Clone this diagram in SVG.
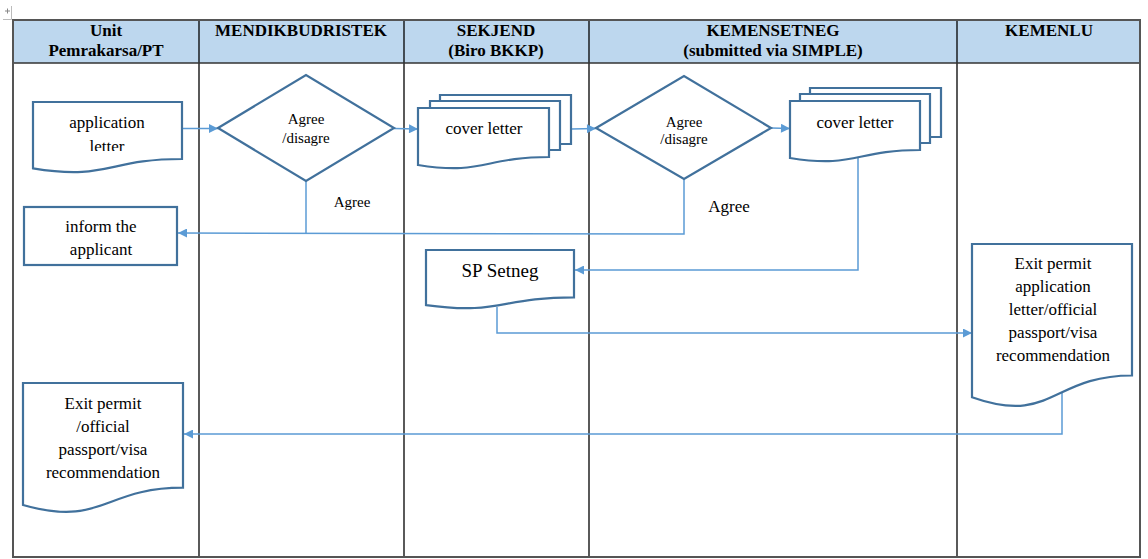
<svg xmlns="http://www.w3.org/2000/svg" width="1148" height="559" viewBox="0 0 1148 559">
<style>
.hdr{font-family:'Liberation Serif','DejaVu Serif',serif;font-weight:bold;font-size:17px;fill:#000;text-anchor:middle}
.t{font-family:'Liberation Serif','DejaVu Serif',serif;font-size:17px;fill:#000;text-anchor:middle}
.s{font-size:15px}
.shape{fill:#fff;stroke:#41719C;stroke-width:2.2}
.page{fill:none;stroke:#41719C;stroke-width:2.2}
.conn{fill:none;stroke:#5B9BD5;stroke-width:1.5}
.grid{stroke:#000;stroke-width:1.3}
</style>
<defs>
<marker id="arr" viewBox="0 0 10 10" refX="10" refY="5" markerWidth="10" markerHeight="9" markerUnits="userSpaceOnUse" orient="auto">
<path d="M0,0 L10,5 L0,10 Z" fill="#5B9BD5"/>
</marker>
<clipPath id="clipApp"><rect x="33" y="102" width="149" height="49"/></clipPath>
</defs>
<rect width="1148" height="559" fill="#fff"/>
<g id="handle" stroke="#bbb" stroke-width="1" fill="none">
<path d="M3,19.5 H11.5 V6"/>
<path d="M5,11 H10 M7.5,8.5 V13.5" stroke="#888"/>
</g>
<g id="table">
<rect x="13" y="20" width="1127" height="43" fill="#BDD7EE"/>
<line class="grid" x1="199" y1="20" x2="199" y2="557"/>
<line class="grid" x1="404" y1="20" x2="404" y2="557"/>
<line class="grid" x1="589" y1="20" x2="589" y2="557"/>
<line class="grid" x1="957" y1="20" x2="957" y2="557"/>
<line x1="13" y1="63" x2="1140" y2="63" stroke="#333" stroke-width="1.5"/>
<rect x="13" y="20" width="1127" height="537" fill="none" stroke="#555" stroke-width="2"/>
<text class="hdr" x="106" y="36">Unit</text>
<text class="hdr" x="106" y="56">Pemrakarsa/PT</text>
<text class="hdr" x="301" y="36">MENDIKBUDRISTEK</text>
<text class="hdr" x="496" y="36">SEKJEND</text>
<text class="hdr" x="496" y="56">(Biro BKKP)</text>
<text class="hdr" x="773" y="36">KEMENSETNEG</text>
<text class="hdr" x="773" y="56">(submitted via SIMPLE)</text>
<text class="hdr" x="1049" y="36">KEMENLU</text>
</g>
<g id="connectors">
<path class="conn" d="M182,128.5 L218,128.5" marker-end="url(#arr)"/>
<path class="conn" d="M394,128.5 L418,129" marker-end="url(#arr)"/>
<path class="conn" d="M571,129 L596,128.5" marker-end="url(#arr)"/>
<path class="conn" d="M771,128 L790,128.5" marker-end="url(#arr)"/>
<path class="conn" d="M306,181 V233"/>
<path class="conn" d="M684,179 V234 L178,233" marker-end="url(#arr)"/>
<path class="conn" d="M858,157 V270 H575" marker-end="url(#arr)"/>
<path class="conn" d="M497,307 V333 H972" marker-end="url(#arr)"/>
<path class="conn" d="M1062,393 V434 H184" marker-end="url(#arr)"/>
</g>
<g id="application-letter">
<path class="shape" d="M33,102 H182 V159 C107.5,159 107.5,180.6 33,168.3 Z"/>
<g clip-path="url(#clipApp)">
<text class="t" x="107" y="128">application</text>
<text class="t" x="107" y="152">letter</text>
</g>
</g>
<g id="decision-1">
<path class="shape" d="M218,128 L306,75 L394,128 L306,181 Z"/>
<text class="t s" x="306" y="124">Agree</text>
<text class="t s" x="306" y="143">/disagre</text>
</g>
<g id="label-agree-1">
<text class="t s" x="352" y="207">Agree</text>
</g>
<g id="inform-applicant">
<rect class="shape" x="24" y="207" width="153" height="58"/>
<text class="t" x="101" y="232">inform the</text>
<text class="t" x="101" y="255">applicant</text>
</g>
<g id="cover-letter-1">
<path class="page" d="M440,101 V95 H571 V144 H560"/>
<path class="page" d="M430,108 V101 H560 V150 H549"/>
<path class="shape" d="M418,108 H549 V157 C483.5,157 483.5,175.5 418,165 Z"/>
<text class="t" x="484" y="134">cover letter</text>
</g>
<g id="decision-2">
<path class="shape" d="M596,128 L684,76 L771,128 L684,179 Z"/>
<text class="t s" x="684" y="127">Agree</text>
<text class="t s" x="684" y="144">/disagre</text>
</g>
<g id="label-agree-2">
<text class="t" x="729" y="212">Agree</text>
</g>
<g id="cover-letter-2">
<path class="page" d="M810,94 V88 H941 V137 H930"/>
<path class="page" d="M800,101 V94 H930 V143 H920"/>
<path class="shape" d="M790,101 H920 V150 C855,150 855,168.5 790,158 Z"/>
<text class="t" x="855" y="128">cover letter</text>
</g>
<g id="sp-setneg">
<path class="shape" d="M426,250 H574 V297.3 C500,297.3 500,315.3 426,305.1 Z"/>
<text class="t" x="500" y="277" style="font-size:19px">SP Setneg</text>
</g>
<g id="exit-permit-application">
<path class="shape" d="M972,244 H1132 V375.5 C1052,375.5 1052,425.5 972,397.2 Z"/>
<text class="t" x="1053" y="269">Exit permit</text>
<text class="t" x="1053" y="292">application</text>
<text class="t" x="1053" y="315">letter/official</text>
<text class="t" x="1053" y="338">passport/visa</text>
<text class="t" x="1053" y="361">recommendation</text>
</g>
<g id="exit-permit-result">
<path class="shape" d="M23,383 H183 V487.7 C103,487.7 103,527.6 23,505 Z"/>
<text class="t" x="103" y="409">Exit permit</text>
<text class="t" x="103" y="432">/official</text>
<text class="t" x="103" y="455">passport/visa</text>
<text class="t" x="103" y="478">recommendation</text>
</g>
</svg>
